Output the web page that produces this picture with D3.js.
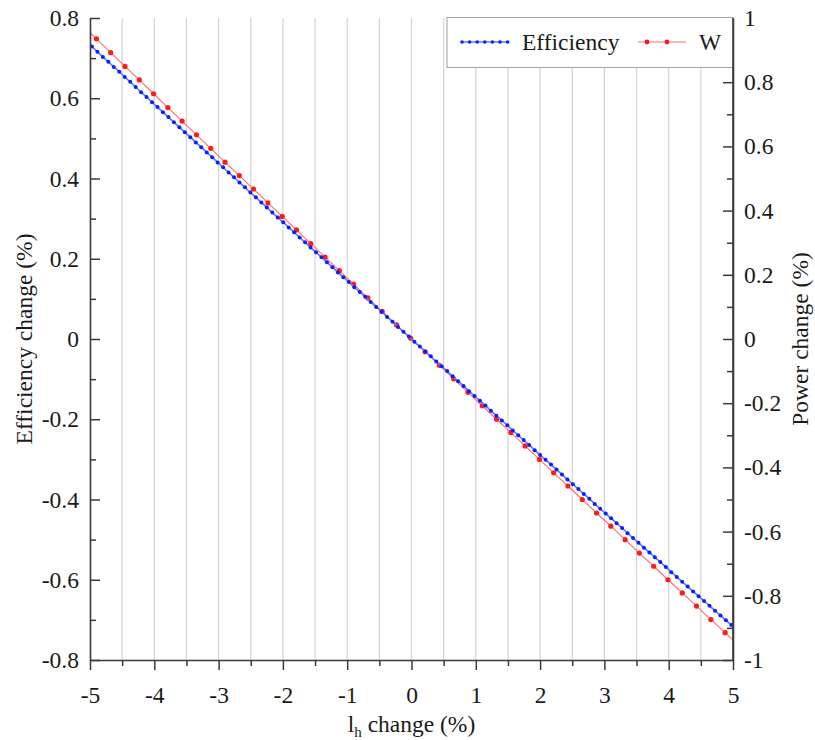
<!DOCTYPE html>
<html>
<head>
<meta charset="utf-8">
<script src="https://cdn.jsdelivr.net/npm/d3@7"></script>
<style>
  body { margin: 0; background: #fff; }
  svg { display: block; }
</style>
</head>
<body>
<svg id="chart" width="815" height="740"></svg>
<script>
// ---------- data ----------
const effX = [-4.97,-4.885,-4.8,-4.715,-4.63,-4.545,-4.46,-4.375,-4.29,-4.205,-4.12,-4.035,-3.95,-3.865,-3.78,-3.695,-3.61,-3.525,-3.44,-3.355,-3.27,-3.185,-3.1,-3.015,-2.93,-2.845,-2.76,-2.675,-2.59,-2.505,-2.42,-2.335,-2.25,-2.165,-2.08,-1.995,-1.91,-1.825,-1.74,-1.655,-1.57,-1.485,-1.4,-1.315,-1.23,-1.145,-1.06,-0.975,-0.89,-0.805,-0.72,-0.635,-0.55,-0.465,-0.38,-0.295,-0.21,-0.125,-0.04,0.045,0.13,0.215,0.3,0.385,0.47,0.555,0.64,0.725,0.81,0.895,0.98,1.065,1.15,1.235,1.32,1.405,1.49,1.575,1.66,1.745,1.83,1.915,2.0,2.085,2.17,2.255,2.34,2.425,2.51,2.595,2.68,2.765,2.85,2.935,3.02,3.105,3.19,3.275,3.36,3.445,3.53,3.615,3.7,3.785,3.87,3.955,4.04,4.125,4.21,4.295,4.38,4.465,4.55,4.635,4.72,4.805,4.89,4.975];
const effY = [0.729,0.716,0.703,0.691,0.678,0.666,0.653,0.641,0.628,0.615,0.603,0.590,0.578,0.565,0.553,0.540,0.528,0.515,0.503,0.490,0.478,0.465,0.453,0.440,0.428,0.415,0.403,0.390,0.378,0.365,0.353,0.340,0.328,0.315,0.303,0.291,0.278,0.266,0.253,0.241,0.228,0.216,0.204,0.191,0.179,0.166,0.154,0.142,0.129,0.117,0.105,0.092,0.080,0.068,0.055,0.043,0.030,0.018,0.006,-0.007,-0.019,-0.031,-0.043,-0.056,-0.068,-0.080,-0.093,-0.105,-0.117,-0.130,-0.142,-0.154,-0.166,-0.179,-0.191,-0.203,-0.215,-0.228,-0.240,-0.252,-0.264,-0.277,-0.289,-0.301,-0.313,-0.325,-0.338,-0.350,-0.362,-0.374,-0.386,-0.398,-0.411,-0.423,-0.435,-0.447,-0.459,-0.471,-0.484,-0.496,-0.508,-0.520,-0.532,-0.544,-0.556,-0.568,-0.581,-0.593,-0.605,-0.617,-0.629,-0.641,-0.653,-0.665,-0.677,-0.689,-0.701,-0.713];

// W (power): line runs -5..5, markers on the inner points
const powX = [-5,-4.9,-4.678,-4.456,-4.233,-4.011,-3.789,-3.567,-3.344,-3.122,-2.9,-2.678,-2.456,-2.233,-2.011,-1.789,-1.567,-1.344,-1.122,-0.9,-0.678,-0.456,-0.233,-0.011,0.211,0.433,0.656,0.878,1.1,1.322,1.544,1.767,1.989,2.211,2.433,2.656,2.878,3.1,3.322,3.544,3.767,3.989,4.211,4.433,4.656,4.878,5];
const powY = [0.954,0.935,0.892,0.849,0.807,0.764,0.721,0.679,0.636,0.594,0.551,0.509,0.467,0.424,0.382,0.340,0.297,0.255,0.213,0.171,0.128,0.086,0.044,0.002,-0.040,-0.082,-0.124,-0.166,-0.208,-0.250,-0.291,-0.333,-0.375,-0.417,-0.458,-0.500,-0.542,-0.583,-0.625,-0.667,-0.708,-0.750,-0.791,-0.832,-0.874,-0.915,-0.938];

const xTicks = [-5,-4,-3,-2,-1,0,1,2,3,4,5];
const xTickLabels = ["-5","-4","-3","-2","-1","0","1","2","3","4","5"];
const xMinor = [-4.5,-3.5,-2.5,-1.5,-0.5,0.5,1.5,2.5,3.5,4.5];
const gridX = [-4.5,-4,-3.5,-3,-2.5,-2,-1.5,-1,-0.5,0,0.5,1,1.5,2,2.5,3,3.5,4,4.5];
const leftTicks = [-0.8,-0.6,-0.4,-0.2,0,0.2,0.4,0.6,0.8];
const leftTickLabels = ["-0.8","-0.6","-0.4","-0.2","0","0.2","0.4","0.6","0.8"];
const leftMinor = [-0.7,-0.5,-0.3,-0.1,0.1,0.3,0.5,0.7];
const rightTicks = [-1,-0.8,-0.6,-0.4,-0.2,0,0.2,0.4,0.6,0.8,1];
const rightTickLabels = ["-1","-0.8","-0.6","-0.4","-0.2","0","0.2","0.4","0.6","0.8","1"];
const rightMinor = [-0.9,-0.7,-0.5,-0.3,-0.1,0.1,0.3,0.5,0.7,0.9];

const seriesNames = ["Efficiency", "W"];

// ---------- layout ----------
const L = 90, R = 733, T = 18, B = 660;
const FONT = '"Liberation Serif", "Times New Roman", serif';
const FS = 23.5;
const svg = d3.select("#chart");
const x = d3.scaleLinear().domain([-5, 5]).range([L, R]);
const yL = d3.scaleLinear().domain([-0.8, 0.8]).range([B, T]);
const yR = d3.scaleLinear().domain([-1, 1]).range([B, T]);

const axisColor = "#3a3a3a";
const textColor = "#1a1a1a";

function txt(sel) {
  return sel.attr("font-family", FONT).style("font-family", FONT)
    .attr("font-size", FS).style("font-size", FS + "px").attr("fill", textColor);
}

// grid
svg.append("g").selectAll("line").data(gridX).join("line")
  .attr("x1", d => x(d)).attr("x2", d => x(d))
  .attr("y1", T).attr("y2", B)
  .attr("stroke", "#d4d4d4").attr("stroke-width", 1.2);

// series: W (right axis)
const powPts = powX.map((v, i) => [v, powY[i]]);
svg.append("path").datum(powPts)
  .attr("fill", "none").attr("stroke", "#ff6b6b").attr("stroke-width", 1.1)
  .attr("d", d3.line().x(d => x(d[0])).y(d => yR(d[1])));
svg.append("g").selectAll("circle").data(powPts.slice(1, -1)).join("circle")
  .attr("cx", d => x(d[0])).attr("cy", d => yR(d[1])).attr("r", 2.6)
  .attr("fill", "#ff1a1a");

// series: Efficiency (left axis)
const effPts = effX.map((v, i) => [v, effY[i]]);
svg.append("path").datum(effPts)
  .attr("fill", "none").attr("stroke", "#5a78ff").attr("stroke-width", 1.6)
  .attr("d", d3.line().x(d => x(d[0])).y(d => yL(d[1])));
svg.append("g").selectAll("circle").data(effPts).join("circle")
  .attr("cx", d => x(d[0])).attr("cy", d => yL(d[1])).attr("r", 2)
  .attr("fill", "#0a1eff");

// axes
function styleAxis(g) {
  g.attr("font-family", FONT).attr("font-size", FS);
  g.selectAll("path.domain").attr("stroke", axisColor).attr("stroke-width", 1.6);
  g.selectAll(".tick line").attr("stroke", axisColor).attr("stroke-width", 1.5);
  txt(g.selectAll(".tick text"));
}

// bottom
const gB = svg.append("g").attr("transform", `translate(0,${B})`)
  .call(d3.axisBottom(x).tickValues(xTicks).tickSize(10).tickPadding(16)
    .tickFormat((d, i) => xTickLabels[i]).tickSizeOuter(0));
styleAxis(gB);
const gBm = svg.append("g").attr("transform", `translate(0,${B})`)
  .call(d3.axisBottom(x).tickValues(xMinor).tickSize(6).tickFormat(""));
gBm.select("path.domain").remove();
styleAxis(gBm);

// left
const gL = svg.append("g").attr("transform", `translate(${L},0)`)
  .call(d3.axisLeft(yL).tickValues(leftTicks).tickSize(-10).tickPadding(11)
    .tickFormat((d, i) => leftTickLabels[i]).tickSizeOuter(0));
styleAxis(gL);
const gLm = svg.append("g").attr("transform", `translate(${L},0)`)
  .call(d3.axisLeft(yL).tickValues(leftMinor).tickSize(-6).tickFormat(""));
gLm.select("path.domain").remove();
styleAxis(gLm);

// right
const gR = svg.append("g").attr("transform", `translate(${R},0)`)
  .call(d3.axisRight(yR).tickValues(rightTicks).tickSize(-10).tickPadding(11)
    .tickFormat((d, i) => rightTickLabels[i]).tickSizeOuter(0));
styleAxis(gR);
const gRm = svg.append("g").attr("transform", `translate(${R},0)`)
  .call(d3.axisRight(yR).tickValues(rightMinor).tickSize(-6).tickFormat(""));
gRm.select("path.domain").remove();
styleAxis(gRm);

// axis titles
const xt = txt(svg.append("text")).attr("x", (L + R) / 2).attr("y", 732)
  .attr("text-anchor", "middle");
xt.append("tspan").text("l");
xt.append("tspan").attr("dy", 5).style("font-size", "15px").text("h");
xt.append("tspan").attr("dy", -5).text(" change (%)");

txt(svg.append("text")).attr("transform", `translate(32,${(T + B) / 2}) rotate(-90)`)
  .attr("text-anchor", "middle").text("Efficiency change (%)");
txt(svg.append("text")).attr("transform", `translate(808,${(T + B) / 2}) rotate(-90)`)
  .attr("text-anchor", "middle").text("Power change (%)");

// legend
const lg = svg.append("g");
lg.append("rect").attr("x", 447).attr("y", 17.5).attr("width", R - 447).attr("height", 50)
  .attr("fill", "#fff").attr("stroke", "#a0a0a0").attr("stroke-width", 1);
const ly = 42;
lg.append("line").attr("x1", 461).attr("x2", 508).attr("y1", ly).attr("y2", ly)
  .attr("stroke", "#5a78ff").attr("stroke-width", 1.6);
lg.append("g").selectAll("circle").data(d3.range(7)).join("circle")
  .attr("cx", i => 462 + i * 7.6).attr("cy", ly).attr("r", 1.8).attr("fill", "#0a1eff");
txt(lg.append("text")).attr("x", 522).attr("y", ly + 8).text(seriesNames[0]);
lg.append("line").attr("x1", 638).attr("x2", 686).attr("y1", ly).attr("y2", ly)
  .attr("stroke", "#ff6b6b").attr("stroke-width", 1.1);
lg.append("g").selectAll("circle").data([647, 667]).join("circle")
  .attr("cx", d => d).attr("cy", ly).attr("r", 2.4).attr("fill", "#ff1a1a");
txt(lg.append("text")).attr("x", 699).attr("y", ly + 8).text(seriesNames[1]);

// redraw right axis line on top of legend box
svg.append("line").attr("x1", R).attr("x2", R).attr("y1", T).attr("y2", B)
  .attr("stroke", axisColor).attr("stroke-width", 1.6);
</script>
</body>
</html>
